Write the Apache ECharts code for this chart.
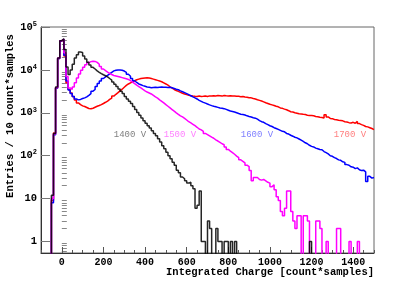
<!DOCTYPE html>
<html><head><meta charset="utf-8">
<script src="https://cdn.jsdelivr.net/npm/echarts@6/dist/echarts.min.js"></script>
<style>html,body{margin:0;padding:0;background:#fff}#c{width:415px;height:282px}</style>
</head><body><div id="c"></div>
<script>
// Histogram bins: 10 count*samples wide, first bin starts at -50
const binLow = -50;
const binWidth = 10;
const xMin = -100, xMax = 1500;
const yMin = 0.54, yMax = 100000;

const counts1400 = [
  12, 330, 4000, 19000, 48000,
  53000, 30000, 11700, 7800, 10000, 13500, 19000, 22500, 26000, 25500,
  21000, 18000, 15000, 13000, 11500, 10500, 9500, 8800, 8200, 7700,
  7300, 6900, 6300, 5800, 5200, 4600, 4100, 3600, 3200, 2800,
  2400, 2100, 1850, 1650, 1400, 1200, 1020, 880, 760, 650,
  570, 500, 440, 380, 330, 290, 250, 210, 170, 145,
  120, 100, 85, 70, 60, 46, 40, 32, 29, 26,
  23, 24, 20, 17, 6, 7, 15, 1, 1, 0,
  3, 2, 0, 0, 2, 1, 1, 0, 1, 1,
  0, 1, 0, 1, 0, 0, 0, 0, 0, 0,
  0, 0, 0, 0, 0, 0, 0, 0, 0, 0,
  0, 0, 0, 0, 0, 0, 0, 0, 0, 0,
  0, 0, 0, 0, 0, 0, 0, 0, 0, 1,
  0, 0, 0, 0, 0, 0, 0, 0, 0, 0,
  0, 0, 0, 0, 0, 0, 0, 0, 0, 0,
  0, 0, 0, 0, 0, 0, 0, 0, 0, 0
];
const counts1500 = [
  10, 320, 3900, 19000, 48000,
  52000, 25000, 7000, 3800, 3500, 4000, 5000, 6500, 8000, 9800,
  11500, 13200, 14800, 15600, 16000, 15800, 15000, 13500, 12000, 10500,
  9600, 8900, 8300, 7800, 7400, 7200, 7000, 6800, 6600, 6400,
  6200, 6000, 5600, 5200, 4800, 4400, 4100, 3800, 3500, 3250,
  3050, 2900, 2750, 2550, 2350, 2200, 2000, 1850, 1700, 1550,
  1420, 1300, 1190, 1090, 1000, 920, 850, 800, 740, 680,
  620, 580, 540, 500, 460, 420, 400, 370, 330, 310,
  290, 270, 255, 235, 220, 205, 190, 180, 160, 140,
  128, 118, 108, 98, 90, 80, 74, 68, 60, 56,
  45, 26, 31, 31, 28, 27, 28, 26, 24, 23,
  19, 21, 16, 11, 9, 5, 4, 6, 15, 15,
  5, 3, 2, 4, 4, 0, 4, 4, 3, 0,
  0, 0, 3, 3, 2, 0, 0, 1, 0, 0,
  0, 0, 2, 2, 0, 0, 0, 0, 1, 0,
  0, 0, 1, 0, 0, 0, 0, 0, 0, 0
];
const counts1600 = [
  8, 310, 3800, 18500, 47000,
  52000, 22000, 5500, 3400, 2800, 2400, 2100, 2000, 2050, 2150,
  2230, 2350, 2550, 2800, 3200, 3500, 4100, 4800, 5500, 6300,
  6900, 7500, 8100, 8800, 9500, 9800, 10000, 10000, 9800, 9400,
  8800, 7900, 7100, 6300, 5600, 5100, 4700, 4500, 4300, 4150,
  4000, 3950, 3850, 3900, 3950, 3900, 3950, 4000, 3950, 3950,
  3900, 3950, 3850, 3700, 3550, 3450, 3250, 3100, 2950, 2800,
  2650, 2500, 2350, 2230, 2100, 1950, 1850, 1750, 1680, 1600,
  1530, 1470, 1420, 1380, 1340, 1300, 1280, 1250, 1200, 1150,
  1100, 1070, 1040, 1000, 960, 930, 910, 890, 850, 820,
  800, 770, 750, 710, 660, 620, 600, 560, 530, 500,
  480, 450, 430, 410, 390, 370, 360, 330, 320, 300,
  285, 270, 260, 245, 230, 215, 200, 190, 175, 165,
  160, 150, 145, 140, 138, 125, 118, 110, 100, 97,
  90, 86, 80, 78, 72, 70, 62, 60, 55, 54,
  50, 52, 47, 45, 46, 42, 25, 33, 30, 31
];
const counts1700 = [
  9, 340, 3800, 18500, 47000,
  51000, 21000, 5000, 3500, 2900, 2400, 2000, 1700, 1550, 1450,
  1400, 1330, 1260, 1240, 1280, 1350, 1420, 1480, 1550, 1650,
  1760, 1880, 2050, 2200, 2450, 2700, 2950, 3250, 3550, 3950,
  4350, 4700, 5000, 5300, 5600, 5900, 6100, 6300, 6400, 6500,
  6550, 6500, 6300, 6100, 5900, 5700, 5500, 5300, 5000, 4700,
  4400, 4050, 3750, 3500, 3300, 3150, 3000, 2850, 2750, 2650,
  2550, 2500, 2450, 2420, 2400, 2450, 2400, 2420, 2450, 2400,
  2480, 2450, 2500, 2480, 2520, 2500, 2450, 2530, 2500, 2480,
  2500, 2450, 2470, 2420, 2430, 2380, 2400, 2330, 2300, 2250,
  2230, 2150, 2100, 2020, 1950, 1880, 1800, 1720, 1650, 1580,
  1530, 1480, 1420, 1380, 1300, 1270, 1220, 1180, 1120, 1060,
  1040, 1000, 980, 950, 940, 920, 910, 880, 870, 860,
  850, 820, 810, 790, 780, 760, 900, 800, 740, 730,
  700, 690, 670, 660, 650, 620, 610, 590, 580, 600,
  570, 630, 560, 530, 510, 480, 470, 450, 430, 405
];

const seriesNames = ['1400 V', '1500 V', '1600 V', '1700 V'];
const xTickValues = [0, 200, 400, 600, 800, 1000, 1200, 1400];
const yTickValues = [1, 10, 100, 1000, 10000, 100000];
const xTitle = 'Integrated Charge [count*samples]';
const yTitle = 'Entries / 10 count*samples';

// minor tick positions
const xMinorTickValues = [];
for (let v = xMin; v <= xMax; v += 50) if (v % 200 !== 0) xMinorTickValues.push(v);
const yMinorTickValues = [];
for (let d = 0.1; d < yMax; d *= 10) for (let m = 2; m <= 9; m++) {
  const v = +(d * m).toPrecision(3);
  if (v > yMin && v < yMax) yMinorTickValues.push(v);
}

const FLOOR = 0.1; // empty bins drawn below the frame (clipped)
function toSteps(counts) {
  const pts = [[xMin, FLOOR]];
  counts.forEach((c, i) => pts.push([binLow + i * binWidth, c > 0 ? c : FLOOR]));
  const last = counts[counts.length - 1];
  pts.push([binLow + counts.length * binWidth, last > 0 ? last : FLOOR]);
  return pts;
}

const monoB = 'Liberation Mono';
function histSeries(name, counts, color, opacity) {
  return {
    name, type: 'line', step: 'end', showSymbol: false, symbol: 'none',
    data: toSteps(counts), clip: true, animation: false,
    lineStyle: { color, width: 1.5, opacity: opacity || 1 },
    emphasis: { disabled: true }
  };
}

const chart = echarts.init(document.getElementById('c'), null, { renderer: 'canvas' });
chart.setOption({
  animation: false,
  backgroundColor: '#fff',
  grid: { left: 41, right: 41, top: 27, bottom: 29, show: true, borderColor: '#666', borderWidth: 1 },
  xAxis: [{
    type: 'value', min: xMin, max: xMax, position: 'bottom',
    axisLine: { show: true, onZero: false, lineStyle: { color: '#333', width: 1 } },
    axisTick: { show: true, inside: true, length: 6, customValues: xTickValues, lineStyle: { color: '#555' } },
    axisLabel: { customValues: xTickValues, formatter: v => String(v), fontFamily: monoB, fontWeight: 'bold', fontSize: 10, color: '#000', margin: 4 },
    splitLine: { show: false }
  }, {
    type: 'value', min: xMin, max: xMax, position: 'bottom', gridIndex: 0,
    axisLine: { show: false },
    axisTick: { show: true, inside: true, length: 3, customValues: xMinorTickValues, lineStyle: { color: '#555' } },
    axisLabel: { show: false }, splitLine: { show: false }
  }],
  yAxis: [{
    type: 'log', logBase: 10, min: yMin, max: yMax, position: 'left',
    axisLine: { show: true, onZero: false, lineStyle: { color: '#333', width: 1 } },
    axisTick: { show: true, inside: true, length: 9, customValues: yTickValues, lineStyle: { color: '#777' } },
    axisLabel: {
      customValues: yTickValues, margin: 4, color: '#000',
      fontFamily: monoB, fontWeight: 'bold', fontSize: 10.5,
      formatter: v => {
        const e = Math.round(Math.log10(v));
        if (e === 0) return '{b|1}';
        if (e === 1) return '{b|10}';
        return '{b|10}{s|' + e + '}';
      },
      rich: {
        b: { fontFamily: monoB, fontWeight: 'bold', fontSize: 10.5, color: '#000', lineHeight: 13 },
        s: { fontFamily: monoB, fontWeight: 'bold', fontSize: 7, color: '#000', verticalAlign: 'top', lineHeight: 8 }
      }
    },
    splitLine: { show: false }
  }, {
    type: 'log', logBase: 10, min: yMin, max: yMax, position: 'left', gridIndex: 0,
    axisLine: { show: false },
    axisTick: { show: true, inside: true, length: 5, customValues: yMinorTickValues, lineStyle: { color: '#888' } },
    axisLabel: { show: false }, splitLine: { show: false }
  }],
  series: [
    histSeries(seriesNames[3], counts1700, '#ff0000'),
    histSeries(seriesNames[2], counts1600, '#0000ff'),
    histSeries(seriesNames[1], counts1500, '#ff00ff'),
    histSeries(seriesNames[0], counts1400, '#000000', 0.85)
  ],
  graphic: [
    { type: 'text', x: 10, y: 116, rotation: Math.PI / 2,
      style: { text: yTitle, fill: '#000', font: 'bold 10.5px "Liberation Mono"', align: 'center', verticalAlign: 'middle' } },
    { type: 'text', x: 374, y: 272,
      style: { text: xTitle, fill: '#000', font: 'bold 10.5px "Liberation Mono"', align: 'right', verticalAlign: 'middle' } },
    { type: 'text', x: 130, y: 135, style: { text: seriesNames[0], fill: '#808080', font: '9px "Liberation Mono"', align: 'center', verticalAlign: 'middle' } },
    { type: 'text', x: 180, y: 135, style: { text: seriesNames[1], fill: '#ff80ff', font: '9px "Liberation Mono"', align: 'center', verticalAlign: 'middle' } },
    { type: 'text', x: 257, y: 135, style: { text: seriesNames[2], fill: '#8080ff', font: '9px "Liberation Mono"', align: 'center', verticalAlign: 'middle' } },
    { type: 'text', x: 350, y: 135, style: { text: seriesNames[3], fill: '#ff8080', font: '9px "Liberation Mono"', align: 'center', verticalAlign: 'middle' } }
  ]
});
</script>
</body></html>
